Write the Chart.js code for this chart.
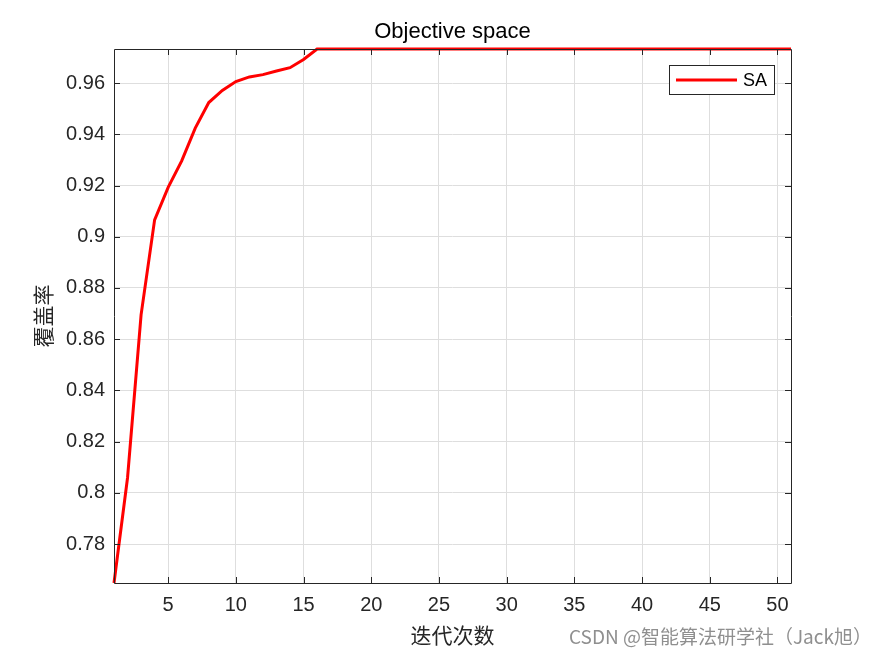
<!DOCTYPE html>
<html>
<head>
<meta charset="utf-8">
<script src="https://cdn.jsdelivr.net/npm/chart.js@4/dist/chart.umd.min.js"></script>
<style>
html,body{margin:0;padding:0;background:#fff;}
#wrap{position:relative;width:875px;height:656px;}
</style>
</head>
<body>
<div id="wrap"><canvas id="c" width="875" height="656"></canvas></div>
<script>
// ---- data ----
const iterations = [1,2,3,4,5,6,7,8,9,10,11,12,13,14,15,16,17,18,19,20,21,22,23,24,25,26,27,28,29,30,31,32,33,34,35,36,37,38,39,40,41,42,43,44,45,46,47,48,49,50,51];
const coverageSA = [0.7648,0.8059,0.8695,0.9066,0.9193,0.9296,0.9424,0.9524,0.9571,0.9606,0.9624,0.9633,0.9647,0.9660,0.9692,0.9733,
  0.9733,0.9733,0.9733,0.9733,0.9733,0.9733,0.9733,0.9733,0.9733,0.9733,0.9733,0.9733,0.9733,0.9733,0.9733,0.9733,0.9733,0.9733,0.9733,
  0.9733,0.9733,0.9733,0.9733,0.9733,0.9733,0.9733,0.9733,0.9733,0.9733,0.9733,0.9733,0.9733,0.9733,0.9733,0.9733];
const xTicks = [5,10,15,20,25,30,35,40,45,50];
const yTicks = [0.78,0.80,0.82,0.84,0.86,0.88,0.90,0.92,0.94,0.96];
const seriesName = 'SA';
const chartTitle = 'Objective space';
const xTitle = '迭代次数';
const yTitle = '覆盖率';
const watermark = 'CSDN @智能算法研学社（Jack旭）';

const AX = '#262626';
const GRID = '#dedede';
const FONT = "'Liberation Sans', Arial, Helvetica, sans-serif";
const CJK = "'Noto Sans CJK SC', 'Noto Sans', sans-serif";

const points = iterations.map((x, i) => ({x: x, y: coverageSA[i]}));

const decor = {
  id: 'decor',
  afterDatasetsDraw(chart) {
    const ctx = chart.ctx, a = chart.chartArea;
    const xs = chart.scales.x, ys = chart.scales.y;
    ctx.save();
    ctx.strokeStyle = AX; ctx.lineWidth = 1;
    ctx.beginPath();
    ctx.moveTo(a.left + 0.5, a.bottom + 0.5);
    ctx.lineTo(a.left + 0.5, a.top + 0.5);
    ctx.lineTo(a.right + 0.5, a.top + 0.5);
    ctx.lineTo(a.right + 0.5, a.bottom + 0.5);
    ctx.closePath();
    ctx.stroke();
    const tl = 6;
    ctx.beginPath();
    xTicks.forEach(v => {
      const p = Math.round(xs.getPixelForValue(v)) + 0.5;
      ctx.moveTo(p, a.bottom); ctx.lineTo(p, a.bottom - tl);
      ctx.moveTo(p, a.top); ctx.lineTo(p, a.top + tl);
    });
    yTicks.forEach(v => {
      const p = Math.round(ys.getPixelForValue(v)) + 0.5;
      ctx.moveTo(a.left, p); ctx.lineTo(a.left + tl, p);
      ctx.moveTo(a.right, p); ctx.lineTo(a.right - tl, p);
    });
    ctx.stroke();
    ctx.restore();
  },
  afterDraw(chart) {
    const ctx = chart.ctx, a = chart.chartArea;
    ctx.save();
    ctx.fillStyle = '#000';
    ctx.font = '22px ' + FONT;
    ctx.textAlign = 'center'; ctx.textBaseline = 'middle';
    ctx.fillText(chartTitle, (a.left + a.right) / 2, 32);
    ctx.fillStyle = AX;
    ctx.font = '21px ' + CJK;
    ctx.fillText(xTitle, (a.left + a.right) / 2, 635);
    ctx.save();
    ctx.translate(43, (a.top + a.bottom) / 2);
    ctx.rotate(-Math.PI / 2);
    ctx.fillText(yTitle, 0, 0);
    ctx.restore();
    const lx = 669.5, ly = 65.5, lw = 105, lh = 29;
    ctx.fillStyle = '#fff';
    ctx.fillRect(lx, ly, lw, lh);
    ctx.strokeStyle = AX; ctx.lineWidth = 1;
    ctx.strokeRect(lx, ly, lw, lh);
    ctx.strokeStyle = '#ff0000'; ctx.lineWidth = 3;
    ctx.beginPath(); ctx.moveTo(676, 80); ctx.lineTo(737, 80); ctx.stroke();
    ctx.fillStyle = '#000';
    ctx.font = '18px ' + FONT;
    ctx.textAlign = 'left';
    ctx.fillText(seriesName, 743, 81);
    ctx.fillStyle = '#8f8f8f';
    ctx.font = '19px ' + CJK;
    ctx.textAlign = 'right';
    ctx.fillText(watermark, 872, 637);
    ctx.restore();
  }
};

new Chart(document.getElementById('c'), {
  type: 'line',
  data: {
    datasets: [{
      label: seriesName,
      data: points,
      borderColor: '#ff0000',
      backgroundColor: '#ff0000',
      borderWidth: 3,
      pointRadius: 0,
      tension: 0,
      clip: false
    }]
  },
  options: {
    responsive: false,
    animation: false,
    devicePixelRatio: 1,
    layout: {padding: {top: 49, right: 84, left: 0, bottom: 0}},
    plugins: {legend: {display: false}, title: {display: false}, tooltip: {enabled: false}},
    scales: {
      x: {
        type: 'linear',
        min: 1, max: 51,
        afterFit: s => { s.height = 73; },
        afterBuildTicks: s => { s.ticks = xTicks.map(v => ({value: v})); },
        grid: {color: GRID, drawTicks: false, lineWidth: 1},
        border: {display: false},
        ticks: {color: AX, padding: 10, font: {family: FONT, size: 20}, maxRotation: 0,
          callback: v => String(v)}
      },
      y: {
        type: 'linear',
        min: 0.7648, max: 0.9733,
        afterFit: s => { s.width = 114; },
        afterBuildTicks: s => { s.ticks = yTicks.map(v => ({value: v})); },
        grid: {color: GRID, drawTicks: false, lineWidth: 1},
        border: {display: false},
        ticks: {color: AX, padding: 9, font: {family: FONT, size: 20},
          callback: v => String(parseFloat(v.toFixed(2)))}
      }
    }
  },
  plugins: [decor]
});
</script>
</body>
</html>
